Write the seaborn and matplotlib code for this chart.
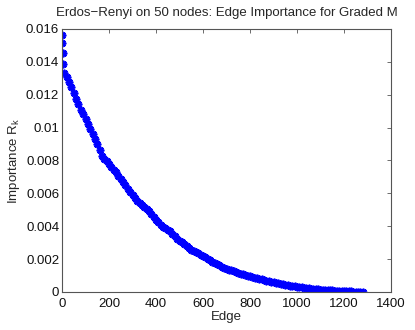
import numpy as np
import pandas as pd
import matplotlib
matplotlib.use("Agg")
import matplotlib.pyplot as plt
import seaborn as sns

# ---- data ----
head_edges = [1, 2, 3, 4]
head_values = [0.01563, 0.01517, 0.01456, 0.01385]

body_edges = list(range(10, 1290, 10))
body_values = [
    0.01335, 0.01310, 0.01280, 0.01245, 0.01210, 0.01175, 0.01145, 0.01110, 0.01080, 0.01050,
    0.01020, 0.00990, 0.00960, 0.00928, 0.00900, 0.00865, 0.00830, 0.00810, 0.00795, 0.00780,
    0.00762, 0.00745, 0.00728, 0.00708, 0.00690, 0.00670, 0.00648, 0.00628, 0.00608, 0.00592,
    0.00572, 0.00555, 0.00540, 0.00528, 0.00518, 0.00505, 0.00490, 0.00475, 0.00458, 0.00440,
    0.00425, 0.00410, 0.00398, 0.00388, 0.00378, 0.00368, 0.00355, 0.00340, 0.00325, 0.00312,
    0.00302, 0.00292, 0.00280, 0.00268, 0.00258, 0.00250, 0.00242, 0.00235, 0.00227, 0.00218,
    0.00210, 0.00200, 0.00192, 0.00185, 0.00178, 0.00170, 0.00162, 0.00155, 0.00148, 0.00142,
    0.00136, 0.00131, 0.00126, 0.00121, 0.00117, 0.00112, 0.00107, 0.00103, 0.00099, 0.00095,
    0.00091, 0.00087, 0.00083, 0.00080, 0.00077, 0.00073, 0.00069, 0.00065, 0.00061, 0.00058,
    0.00055, 0.00052, 0.00049, 0.00046, 0.00044, 0.00042, 0.00039, 0.00037, 0.00035, 0.00033,
    0.00031, 0.00029, 0.00027, 0.00025, 0.00023, 0.00021, 0.00019, 0.00017, 0.00016, 0.00015,
    0.00014, 0.00013, 0.00012, 0.00011, 0.00010, 0.00009, 0.00008, 0.00007, 0.00006, 0.00005,
    0.000045, 0.00004, 0.00003, 0.000025, 0.00002, 0.000015, 0.00001, 0.000005,
]

x_ticks = [0, 200, 400, 600, 800, 1000, 1200, 1400]
y_ticks = [0, 0.002, 0.004, 0.006, 0.008, 0.01, 0.012, 0.014, 0.016]
y_tick_labels = ["0", "0.002", "0.004", "0.006", "0.008", "0.01", "0.012", "0.014", "0.016"]

title = "Erdos\u2212Renyi on 50 nodes: Edge Importance for Graded M"
x_label = "Edge"
y_label = "Importance R$_\\mathregular{k}$"

# ---- plotting ----
sns.set_style("white")
plt.rcParams["font.family"] = ["Liberation Sans", "DejaVu Sans"]

df = pd.DataFrame({"edge": head_edges + body_edges,
                   "importance": head_values + body_values})

fig = plt.figure(figsize=(4.15, 3.30), dpi=100)
ax = fig.add_axes([0.1494, 0.1152, 0.7928, 0.7970])

sns.lineplot(data=df, x="edge", y="importance", ax=ax, linestyle="",
             marker=(8, 2, 0), markersize=5.5, markeredgewidth=1.3,
             color="#0000ff", markeredgecolor="#0000ff", legend=False)

ax.set_xlim(0, 1400)
ax.set_ylim(0, 0.016)
ax.set_xticks(x_ticks)
ax.set_xticklabels([str(t) for t in x_ticks])
ax.set_yticks(y_ticks)
ax.set_yticklabels(y_tick_labels)

for sp in ax.spines.values():
    sp.set_visible(True)
    sp.set_color("#555555")
    sp.set_linewidth(0.8)
ax.tick_params(direction="in", length=3, width=0.6, color="#555555",
               top=True, right=True, labelsize=9.5, labelcolor="#111111", pad=2)
ax.tick_params(axis="x", pad=4)

ax.set_xlabel(x_label, fontsize=9.5, labelpad=1)
ax.set_ylabel(y_label, fontsize=9.5, labelpad=3)
ax.set_title(title, fontsize=9.5, pad=9)

fig.savefig("out.png", dpi=100)
